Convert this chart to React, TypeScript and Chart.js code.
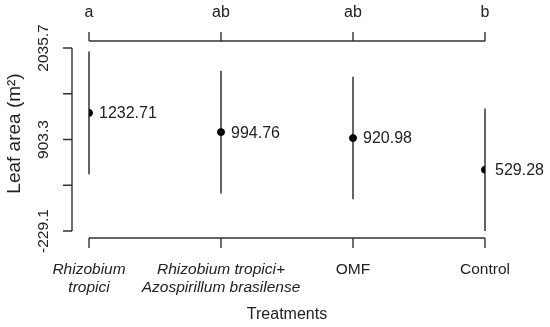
import React, { useEffect, useRef } from "react";
import { Chart, registerables } from "chart.js";

Chart.register(...registerables);

const categories: string[][] = [
  ["Rhizobium", "tropici"],
  ["Rhizobium tropici+", "Azospirillum brasilense"],
  ["OMF"],
  ["Control"],
];
const categoryItalic: boolean[] = [true, true, false, false];
const groupLetters: string[] = ["a", "ab", "ab", "b"];
const means: number[] = [1232.71, 994.76, 920.98, 529.28];
const meanLabels: string[] = ["1232.71", "994.76", "920.98", "529.28"];
const errors: number[] = [758.4, 758.4, 758.4, 758.4];
const yTicks: number[] = [-229.1, 337.1, 903.3, 1469.5, 2035.7];
const yTickLabels: string[] = ["-229.1", "", "903.3", "", "2035.7"];
const xTitle = "Treatments";
const yTitle = "Leaf area (m²)";

const FONT = "'Liberation Sans', Arial, sans-serif";
const TEXT = "#222";
const LINE = "#333";

const rPlotPlugin = {
  id: "rplot",
  afterDatasetsDraw(chart: any) {
    const ctx = chart.ctx as CanvasRenderingContext2D;
    const xs = chart.scales.x;
    const ys = chart.scales.y;
    const area = chart.chartArea;
    ctx.save();

    // error bars
    ctx.strokeStyle = "#111";
    ctx.lineWidth = 1.3;
    means.forEach((m, i) => {
      const px = xs.getPixelForValue(i);
      ctx.beginPath();
      ctx.moveTo(px, ys.getPixelForValue(m + errors[i]));
      ctx.lineTo(px, ys.getPixelForValue(m - errors[i]));
      ctx.stroke();
    });

    // axes
    ctx.strokeStyle = LINE;
    ctx.lineWidth = 1.4;
    const x0 = xs.getPixelForValue(0);
    const x1 = xs.getPixelForValue(categories.length - 1);
    const topY = area.top - 7;
    const botY = area.bottom + 7;
    const leftX = area.left - 17;
    const tickLen = 9;
    ctx.beginPath();
    ctx.moveTo(x0, topY);
    ctx.lineTo(x1, topY);
    categories.forEach((_, i) => {
      const px = xs.getPixelForValue(i);
      ctx.moveTo(px, topY);
      ctx.lineTo(px, topY - tickLen);
    });
    ctx.moveTo(x0, botY);
    ctx.lineTo(x1, botY);
    categories.forEach((_, i) => {
      const px = xs.getPixelForValue(i);
      ctx.moveTo(px, botY);
      ctx.lineTo(px, botY + tickLen + 1);
    });
    const yt0 = ys.getPixelForValue(yTicks[0]);
    const yt1 = ys.getPixelForValue(yTicks[yTicks.length - 1]);
    ctx.moveTo(leftX, yt0);
    ctx.lineTo(leftX, yt1);
    yTicks.forEach((v) => {
      const py = ys.getPixelForValue(v);
      ctx.moveTo(leftX, py);
      ctx.lineTo(leftX - tickLen, py);
    });
    ctx.stroke();

    ctx.fillStyle = TEXT;
    ctx.textBaseline = "middle";

    ctx.textAlign = "center";
    ctx.font = `16px ${FONT}`;
    groupLetters.forEach((t, i) => {
      ctx.fillText(t, xs.getPixelForValue(i), topY - 28);
    });

    categories.forEach((lines, i) => {
      ctx.font = `${categoryItalic[i] ? "italic " : ""}15.5px ${FONT}`;
      lines.forEach((ln, j) => {
        ctx.fillText(ln, xs.getPixelForValue(i), botY + 32 + j * 18);
      });
    });

    ctx.font = `16px ${FONT}`;
    ctx.fillText(xTitle, (x0 + x1) / 2, botY + 77);

    ctx.textAlign = "left";
    ctx.font = `16px ${FONT}`;
    means.forEach((m, i) => {
      ctx.fillText(meanLabels[i], xs.getPixelForValue(i) + 10, ys.getPixelForValue(m) + 1);
    });

    ctx.textAlign = "center";
    yTicks.forEach((v, i) => {
      if (!yTickLabels[i]) return;
      const py = ys.getPixelForValue(v);
      ctx.save();
      ctx.translate(leftX - 28, py);
      ctx.rotate(-Math.PI / 2);
      ctx.font = `15.5px ${FONT}`;
      ctx.fillText(yTickLabels[i], 0, 0);
      ctx.restore();
    });

    ctx.save();
    ctx.translate(15, (yt0 + yt1) / 2 - 6);
    ctx.rotate(-Math.PI / 2);
    ctx.font = `19px ${FONT}`;
    ctx.fillText(yTitle, 0, 0);
    ctx.restore();

    ctx.restore();
  },
};

export default function App() {
  const ref = useRef<HTMLCanvasElement | null>(null);
  useEffect(() => {
    if (!ref.current) return;
    const chart = new Chart(ref.current, {
      type: "scatter",
      data: {
        datasets: [
          {
            data: means.map((m, i) => ({ x: i, y: m })),
            backgroundColor: "#000",
            borderColor: "#000",
            pointRadius: 3.5,
            pointHoverRadius: 3.5,
          },
        ],
      },
      options: {
        responsive: false,
        animation: false,
        events: [],
        layout: { padding: { left: 89, right: 65, top: 48, bottom: 96 } },
        plugins: { legend: { display: false }, tooltip: { enabled: false } },
        scales: {
          x: { type: "linear", display: false, min: 0, max: categories.length - 1 },
          y: { type: "linear", display: false, min: yTicks[0], max: yTicks[yTicks.length - 1] },
        },
      },
      plugins: [rPlotPlugin],
    });
    return () => chart.destroy();
  }, []);
  return (
    <div style={{ position: "absolute", left: 0, top: 0, background: "#fff" }}>
      <canvas ref={ref} width={550} height={327} style={{ width: 550, height: 327, display: "block" }} />
    </div>
  );
}
